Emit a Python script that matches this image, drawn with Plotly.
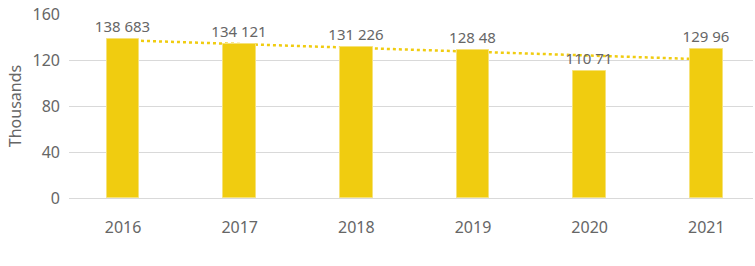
import numpy as np
import plotly.graph_objects as go

years = ["2016", "2017", "2018", "2019", "2020", "2021"]
values = [138.683, 134.121, 131.226, 128.48, 110.71, 129.96]
labels = ["138 683", "134 121", "131 226", "128 48", "110 71", "129 96"]
y_ticks = [0, 40, 80, 120, 160]

xi = np.arange(len(values))
slope, intercept = np.polyfit(xi, values, 1)
trend = list(intercept + slope * xi)

BAR = "#F0CC10"
TXT = "#666666"
FONT = "Noto Sans"

fig = go.Figure()
fig.add_trace(go.Scatter(
    x=xi, y=trend, mode="lines",
    line=dict(color=BAR, width=2.5, dash="dot"),
    xaxis="x", yaxis="y", showlegend=False, hoverinfo="skip",
))
fig.add_trace(go.Bar(
    x=xi, y=values, width=0.28,
    marker=dict(color=BAR, line=dict(color="#F6E27A", width=1)),
    text=labels, textposition="outside", cliponaxis=False,
    constraintext="none",
    textfont=dict(color=TXT, size=15, family=FONT),
    xaxis="x", yaxis="y2", showlegend=False,
))

yrange = [0, 160]
fig.update_layout(
    width=755, height=266,
    margin=dict(l=69, r=2, t=14, b=68),
    paper_bgcolor="white", plot_bgcolor="white",
    font=dict(family=FONT, color=TXT, size=15),
    xaxis=dict(
        tickmode="array", tickvals=list(xi), ticktext=years,
        range=[-0.463, 5.40], showgrid=False, zeroline=False,
        showline=False, ticks="", ticklabelstandoff=18,
        tickfont=dict(size=16, color=TXT),
    ),
    yaxis=dict(
        range=yrange, tickvals=y_ticks, showgrid=True, gridcolor="#D9D9D9",
        gridwidth=1, zeroline=True, zerolinecolor="#D9D9D9", zerolinewidth=1,
        showline=False, ticks="", ticklabelstandoff=8,
        tickfont=dict(size=16, color=TXT),
        title=dict(text="Thousands", font=dict(size=16, color=TXT), standoff=6),
    ),
    yaxis2=dict(
        range=yrange, overlaying="y", visible=False, showgrid=False,
        zeroline=False,
    ),
    bargap=0,
)

fig.write_html("out.html")
